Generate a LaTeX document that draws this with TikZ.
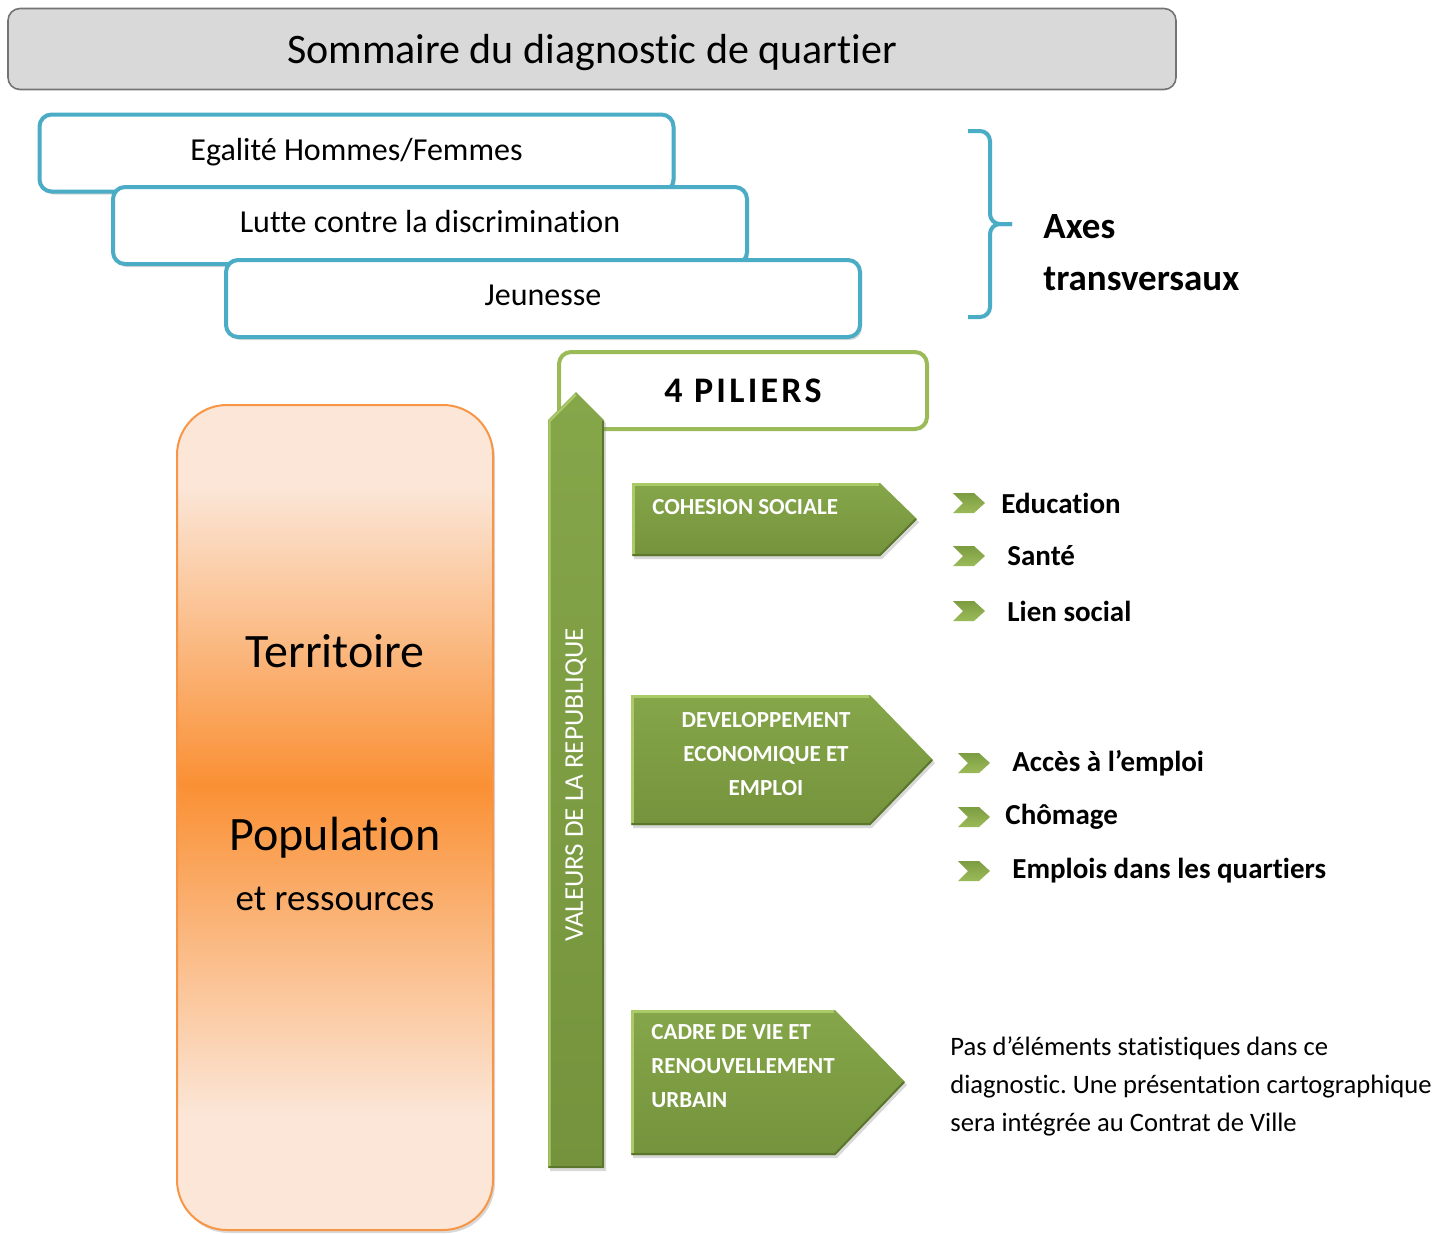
\documentclass[tikz,border=0pt]{standalone}
\usepackage{fontspec}
\setmainfont{Carlito}[Ligatures=CommonOff]
\usetikzlibrary{shadows,positioning}
\definecolor{bleu}{RGB}{75,172,198}
\definecolor{vertclair}{RGB}{155,187,89}
\definecolor{vert}{RGB}{124,156,66}
\definecolor{verthaut}{RGB}{134,166,74}
\definecolor{vertbas}{RGB}{116,147,60}
\definecolor{vertlumiere}{RGB}{170,202,104}
\definecolor{vertombre}{RGB}{92,118,46}
\definecolor{orangeF}{RGB}{247,150,70}
\definecolor{orangevif}{RGB}{250,144,52}
\definecolor{orangepale}{RGB}{251,230,215}
\definecolor{gristitre}{RGB}{217,217,217}
\pgfdeclareverticalshading{territoire}{100bp}{color(0bp)=(orangepale); color(32bp)=(orangepale); color(52bp)=(orangevif); color(70bp)=(orangepale); color(100bp)=(orangepale)}
\frenchspacing

\begin{document}
\begin{tikzpicture}[x=0.5pt,y=-0.5pt,
	texte/.style={inner sep=0pt},
	axe/.style={draw=bleu, fill=white, line width=2pt, rounded corners=6pt, minimum width=317pt, minimum height=38.5pt, text height=11pt, text depth=3.8pt, font=\fontsize{16}{19}\selectfont},
	ombre/.style={drop shadow={shadow xshift=1pt, shadow yshift=-1.5pt, opacity=0.3}},
	bloc/.style={top color=verthaut, bottom color=vertbas, ombre},
	puce/.pic={\shade[top color=vert, bottom color=vertclair] (0,-10) -- (21,-10) -- (32,0) -- (21,10) -- (0,10) -- (10,0) -- cycle;},
	item/.style={texte, anchor=west, font=\bfseries\fontsize{14.5}{17}\selectfont},
	pilier/.style={texte, text=white, font=\bfseries\fontsize{11.5}{17}\selectfont}]
	\useasboundingbox (0,0) rectangle (1440,1233);
		\node[draw=black!55, fill=gristitre, line width=0.8pt, rounded corners=6pt, minimum width=584pt, minimum height=40.5pt, text height=16pt, text depth=1.6pt, font=\fontsize{21}{25}\selectfont] (titre) at (592,49) {Sommaire du diagnostic de quartier};
		\node[axe, ombre] (egalite) at (356.5,153) {Egalité Hommes/Femmes};
		\node[axe, ombre] (lutte) at (430,225.5) {Lutte contre la discrimination};
		\node[axe, ombre] (jeunesse) at (543,298.5) {Jeunesse};
		\draw[bleu, line width=2pt, rounded corners=5pt] (968,131) -- (990,131) -- (990,224) -- (1012,224);
		\draw[bleu, line width=2pt, rounded corners=5pt] (1012,224) -- (990,224) -- (990,317) -- (968,317);
		\node[texte, anchor=west, font=\bfseries\fontsize{18.5}{22}\selectfont] (axes) at (1043,227) {Axes};
		\node[texte, anchor=west, font=\bfseries\fontsize{18.5}{22}\selectfont] (transversaux) at (1043,279) {transversaux};
		\node[draw=vertclair, fill=white, line width=2pt, rounded corners=6pt, minimum width=184pt, minimum height=38.5pt, font=\bfseries\fontsize{18}{22}\selectfont\addfontfeatures{LetterSpace=9}] (piliers) at (743,390.5) {4 PILIERS};
	% territoire et population
		\shade[ombre, draw=orangeF, line width=1pt, rounded corners=25pt, shading=territoire] (177,405) rectangle (493,1230);
		\node[texte, font=\fontsize{24}{28}\selectfont] (territoire) at (335,651) {Territoire};
		\node[texte, font=\fontsize{24}{28}\selectfont] (population) at (335,838) {Population};
		\node[texte, font=\fontsize{18.5}{22}\selectfont] (ressources) at (335,899) {et ressources};
	% valeurs de la republique
		\shade[bloc] (548,1168) -- (548,420) -- (576,392) -- (604,420) -- (604,1168) -- cycle;
		\draw[vertlumiere, line width=1.2pt] (549.5,1166) -- (549.5,421) -- (576,394.5);
		\draw[vertombre, line width=1pt] (549,1167) -- (603,1167) -- (603,421);
		\node[texte, rotate=90, text=white, font=\fontsize{13.5}{16}\selectfont] (valeurs) at (576,785) {VALEURS DE LA REPUBLIQUE};
	% piliers
		\shade[bloc] (632,483) -- (880,483) -- (917,519) -- (880,556) -- (632,556) -- cycle;
		\draw[vertlumiere, line width=1.2pt] (633.5,554) -- (633.5,484.5) -- (879,484.5);
		\draw[vertombre, line width=1pt] (633,555) -- (880,555) -- (916,519);
		\node[pilier, anchor=west] (cohesion) at (652,507) {COHESION SOCIALE};
		\shade[bloc] (631,695) -- (870,695) -- (933,760) -- (870,825) -- (631,825) -- cycle;
		\draw[vertlumiere, line width=1.2pt] (632.5,823) -- (632.5,696.5) -- (869,696.5);
		\draw[vertombre, line width=1pt] (632,824) -- (870,824) -- (932,760);
		\node[pilier, align=center] (developpement) at (766,754) {DEVELOPPEMENT\\ECONOMIQUE ET\\EMPLOI};
		\shade[bloc] (631,1010) -- (835,1010) -- (905,1082) -- (835,1155) -- (631,1155) -- cycle;
		\draw[vertlumiere, line width=1.2pt] (632.5,1153) -- (632.5,1011.5) -- (834,1011.5);
		\draw[vertombre, line width=1pt] (632,1154) -- (835,1154) -- (904,1082);
		\node[pilier, align=left, anchor=west] (cadre) at (651,1066) {CADRE DE VIE ET\\RENOUVELLEMENT\\URBAIN};
	% sous-themes
		\pic at (953,503) {puce};
		\pic at (953,556) {puce};
		\pic at (953,611) {puce};
		\node[item] (education) at (1001,503) {Education};
		\node[item] (sante) at (1007,556) {Santé};
		\node[item] (lien) at (1007,611) {Lien social};
		\pic at (958,763) {puce};
		\pic at (958,817) {puce};
		\pic at (958,871) {puce};
		\node[item] (acces) at (1012,763) {Accès à l’emploi};
		\node[item] (chomage) at (1005,817) {Chômage};
		\node[item] (emplois) at (1012,871) {Emplois dans les quartiers};
		\node[texte, anchor=west, align=left, font=\fontsize{13.3}{19}\selectfont] (remarque) at (950,1086) {Pas d’éléments statistiques dans ce\\diagnostic. Une présentation cartographique\\sera intégrée au Contrat de Ville};
\end{tikzpicture}
\end{document}
